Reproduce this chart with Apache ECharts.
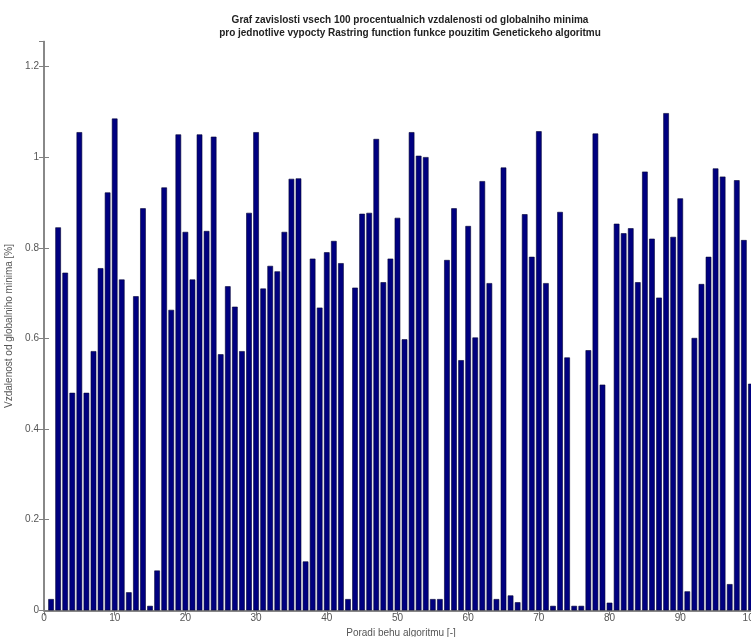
<!DOCTYPE html>
<html>
<head>
<meta charset="utf-8">
<script src="https://cdn.jsdelivr.net/npm/echarts@6/dist/echarts.min.js"></script>
<style>html,body{margin:0;padding:0;background:#fff;}#c{width:751px;height:637px;}</style>
</head>
<body>
<div id="c"></div>
<script>
const titleLines = [
  "Graf zavislosti vsech 100 procentualnich vzdalenosti od globalniho minima",
  "pro jednotlive vypocty Rastring function funkce pouzitim Genetickeho algoritmu"
];
const xAxisName = "Poradi behu algoritmu [-]";
const yAxisName = "Vzdalenost od globalniho minima [%]";
const runs = Array.from({length: 100}, (_, i) => i + 1);
const distances = [
  0.025, 0.845, 0.745, 0.48, 1.055, 0.48, 0.572, 0.755, 0.922, 1.085,
  0.73, 0.04, 0.693, 0.887, 0.01, 0.088, 0.933, 0.663, 1.05, 0.835,
  0.73, 1.05, 0.837, 1.045, 0.565, 0.715, 0.67, 0.572, 0.877, 1.055,
  0.71, 0.76, 0.748, 0.835, 0.952, 0.953, 0.108, 0.776, 0.668, 0.79,
  0.815, 0.766, 0.025, 0.712, 0.875, 0.877, 1.04, 0.724, 0.776, 0.866,
  0.598, 1.055, 1.003, 1.0, 0.025, 0.025, 0.773, 0.887, 0.552, 0.848,
  0.602, 0.947, 0.722, 0.025, 0.977, 0.033, 0.018, 0.874, 0.78, 1.057,
  0.722, 0.01, 0.879, 0.558, 0.01, 0.01, 0.574, 1.052, 0.498, 0.017,
  0.853, 0.832, 0.843, 0.724, 0.968, 0.82, 0.69, 1.097, 0.824, 0.909,
  0.042, 0.601, 0.72, 0.78, 0.975, 0.957, 0.058, 0.949, 0.817, 0.5
];
const xTickInterval = 10;
const yTickInterval = 0.2;

const chart = echarts.init(document.getElementById('c'), null, {renderer: 'canvas'});
const lineColor = '#808080';
const textColor = '#555';
const font = 'Liberation Sans, Arial, sans-serif';
const commonLine = {show: true, lineStyle: {color: lineColor, width: 1.5}};
const option = {
  animation: false,
  backgroundColor: '#fff',
  title: {
    text: titleLines.join('\n'),
    left: 405, top: 9, textAlign: 'center',
    textStyle: {fontFamily: font, fontSize: 10, fontWeight: 'bold', color: '#222', lineHeight: 13}
  },
  grid: {left: 44, top: 41.5, width: 714, bottom: 26.6, containLabel: false, outerBoundsMode: 'none'},
  xAxis: [{
    type: 'value', min: 0, max: 101, interval: xTickInterval,
    name: xAxisName, nameLocation: 'middle', nameGap: 12,
    nameTextStyle: {fontFamily: font, fontSize: 10, color: textColor},
    axisLine: commonLine,
    axisTick: {show: true, inside: true, length: 5, lineStyle: {color: lineColor}},
    axisLabel: {fontFamily: font, fontSize: 10, color: textColor, margin: 3, showMaxLabel: false},
    splitLine: {show: false}
  }, {
    type: 'value', min: 0, max: 101, interval: xTickInterval, position: 'top',
    axisLine: commonLine,
    axisTick: {show: true, inside: true, length: 5, lineStyle: {color: lineColor}},
    axisLabel: {show: false}, splitLine: {show: false}
  }],
  yAxis: [{
    type: 'value', min: 0, max: 1.255, interval: yTickInterval,
    name: yAxisName, nameLocation: 'middle', nameGap: 22, nameRotate: 90,
    nameTextStyle: {fontFamily: font, fontSize: 10, color: textColor},
    axisLine: commonLine,
    axisTick: {show: true, inside: true, length: 5, lineStyle: {color: lineColor}},
    axisLabel: {fontFamily: font, fontSize: 10, color: textColor, margin: 5, showMaxLabel: false},
    splitLine: {show: false}
  }, {
    type: 'value', min: 0, max: 1.255, interval: yTickInterval, position: 'right',
    axisLine: commonLine,
    axisTick: {show: true, inside: true, length: 5, lineStyle: {color: lineColor}},
    axisLabel: {show: false}, splitLine: {show: false}
  }],
  series: [{
    type: 'bar',
    xAxisIndex: 0, yAxisIndex: 0,
    barWidth: 5.6,
    data: runs.map((r, i) => [r, distances[i]]),
    itemStyle: {color: '#000080', borderColor: '#000033', borderWidth: 0.6}
  }]
};
chart.setOption(option);
</script>
</body>
</html>
